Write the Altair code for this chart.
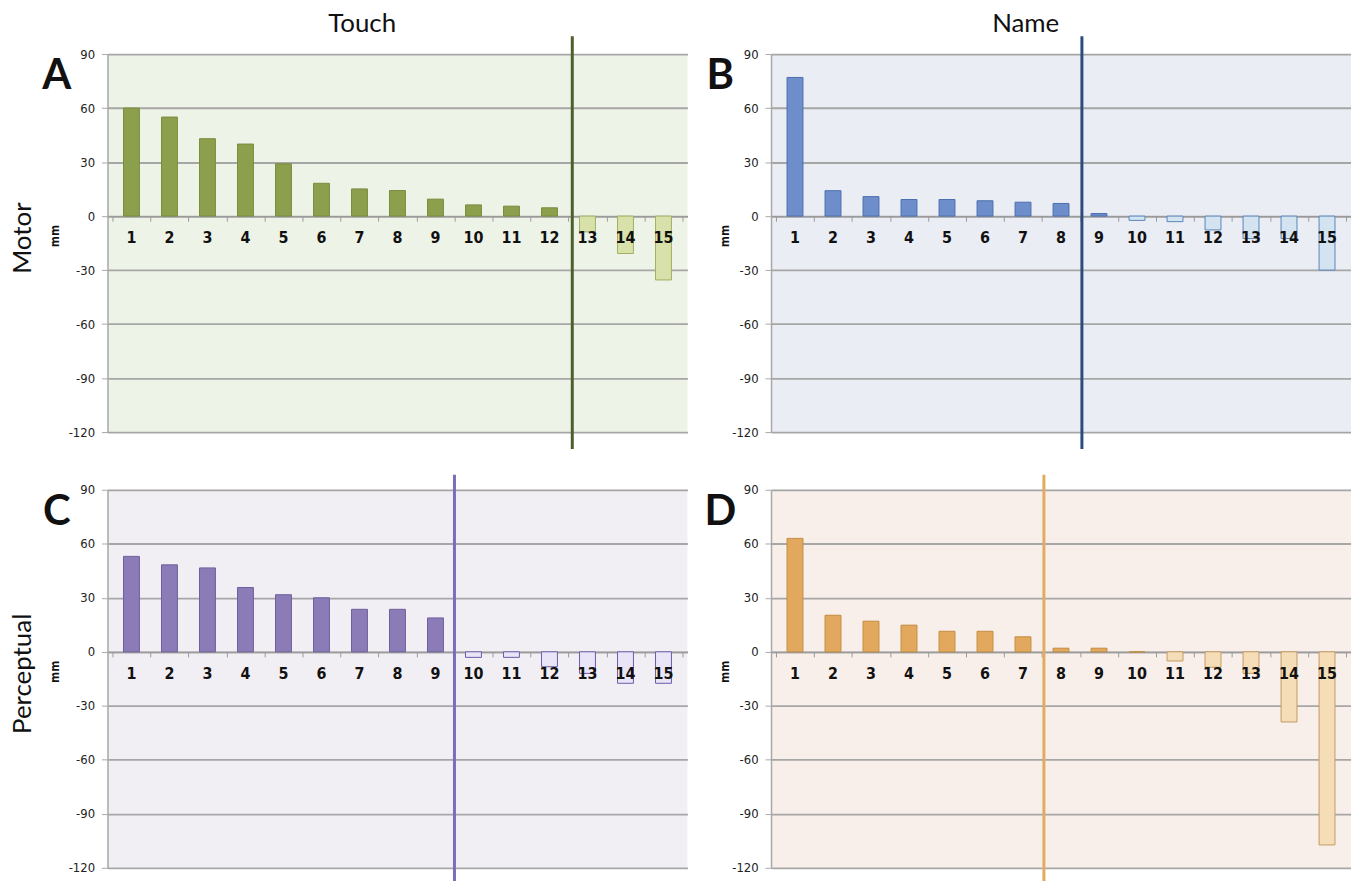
import altair as alt
import pandas as pd

# ---- data ----
cats = list(range(1, 16))
touch_motor = [60, 55, 43, 40, 29, 18.2, 15.1, 14.2, 9.4, 6.2, 5.5, 4.6, -8.8, -20.8, -35.5]
name_motor = [77, 14.1, 10.8, 9.2, 9.2, 8.5, 7.7, 7.0, 1.4, -2.4, -3.1, -7.7, -12.5, -12.5, -30]
touch_perceptual = [53, 48.3, 46.6, 35.7, 31.7, 30, 23.6, 23.6, 18.8, -3.1, -3.1, -8.3, -12, -17.5, -17.5]
name_perceptual = [63, 20.3, 17, 14.8, 11.4, 11.4, 8.3, 2, 2, 0, -5.1, -8.6, -12, -39, -107.3]
split_positions = [12.6, 8.55, 9.5, 7.55]   # divider line, in category units
y_ticks = [-120, -90, -60, -30, 0, 30, 60, 90]
x_bounds = [0.5, 1.5, 2.5, 3.5, 4.5, 5.5, 6.5, 7.5, 8.5, 9.5, 10.5, 11.5, 12.5, 13.5, 14.5, 15.5]
col_titles = ["Touch", "Name"]
row_titles = ["Motor", "Perceptual"]
letters = ["A", "B", "C", "D"]

W, H = 583, 380
NARROW = "Liberation Sans Narrow, DejaVu Sans Condensed, Lato, sans-serif"
HUMAN = "Lato, Open Sans, sans-serif"
GRID = "#a6a6a6"

palettes = [
    # dark fill, dark stroke, light fill, light stroke, background, divider
    ("#8c9f4c", "#7a8c3e", "#d8e1a9", "#9fb062", "#eef3e8", "#4d5f2a"),
    ("#6d8ecb", "#4b6eae", "#d3e3f0", "#5a85bb", "#ebedf5", "#2b4c7d"),
    ("#8b7bb6", "#6e5f9d", "#e9e5f7", "#6b5ca8", "#f1eff4", "#7d6db8"),
    ("#e2a95e", "#c48b3f", "#f5ddb7", "#c59a62", "#f8efeb", "#e2ab62"),
]

xscale = alt.Scale(domain=[0.5, 15.5], nice=False, zero=False)
yscale = alt.Scale(domain=[-120, 90], nice=False, zero=False)
zero_offset = -round(H * 120 / 210)


def xenc(field):
    return alt.X(field, type="quantitative", scale=xscale,
                 axis=alt.Axis(values=x_bounds, labels=False, title=None, grid=False,
                               orient="bottom", offset=zero_offset, tickSize=5,
                               tickColor="#9a9a9a", domainColor="#9a9a9a",
                               domainWidth=1.5, tickWidth=1))


yaxis = alt.Axis(values=y_ticks, title=None, grid=True, gridColor=GRID, gridWidth=1.8,
                 domainColor="#a8a8a8", domainWidth=1.5, tickColor="#a8a8a8", tickSize=6,
                 labelFont=NARROW, labelFontSize=13, labelColor="#222222", labelPadding=7,
                 labelExpr="'' + datum.value")


def panel(vals, idx, col_title=None, row_title=None):
    dark, dstroke, light, lstroke, bg, linecol = palettes[idx]
    df = pd.DataFrame({"cat": cats, "val": vals})
    df["fillc"] = [dark if v >= 0 else light for v in vals]
    df["strokec"] = [dstroke if v >= 0 else lstroke for v in vals]
    df["lab"] = [str(c) for c in cats]
    base = alt.Chart(df)
    bars = base.mark_bar(size=16, strokeWidth=1).encode(
        x=xenc("cat"),
        y=alt.Y("val:Q", scale=yscale, axis=yaxis),
        fill=alt.Fill("fillc:N", scale=None),
        stroke=alt.Stroke("strokec:N", scale=None),
    )
    labels = base.mark_text(font=NARROW, fontSize=16, fontWeight="bold", color="#111111",
                            dy=22).encode(
        x=xenc("cat"),
        y=alt.Y(datum=0, scale=yscale, axis=yaxis),
        text="lab:N",
    )
    top = -18 if idx < 2 else -15
    bot = 397 if idx < 2 else 395
    rule = alt.Chart(pd.DataFrame({"s": [split_positions[idx]]})).mark_rule(
        color=linecol, strokeWidth=3).encode(
        x=xenc("s"), y=alt.value(top), y2=alt.value(bot))
    letter = alt.Chart(pd.DataFrame({"t": [letters[idx]]})).mark_text(
        font=HUMAN, fontSize=42, fontWeight="bold", color="#111111").encode(
        x=alt.value(-51), y=alt.value(22), text="t:N")
    mm = alt.Chart(pd.DataFrame({"t": ["mm"]})).mark_text(
        font=NARROW, fontSize=12, fontWeight="bold", color="#111111", angle=270).encode(
        x=alt.value(-53 if idx % 2 == 0 else -46), y=alt.value(183), text="t:N")
    layers = [bars, labels, rule, letter, mm]
    if col_title:
        layers.append(alt.Chart(pd.DataFrame({"t": [col_title]})).mark_text(
            font=HUMAN, fontSize=26, color="#111111").encode(
            x=alt.value(256), y=alt.value(-30), text="t:N"))
    if row_title:
        layers.append(alt.Chart(pd.DataFrame({"t": [row_title]})).mark_text(
            font=HUMAN, fontSize=26, color="#111111", angle=270).encode(
            x=alt.value(-85), y=alt.value(185), text="t:N"))
    return alt.layer(*layers).properties(
        width=W, height=H, view=alt.ViewBackground(fill=bg, stroke=None))


pA = panel(touch_motor, 0, col_title=col_titles[0], row_title=row_titles[0])
pB = panel(name_motor, 1, col_title=col_titles[1])
pC = panel(touch_perceptual, 2, row_title=row_titles[1])
pD = panel(name_perceptual, 3)

chart = alt.concat(pA, pB, pC, pD, columns=2, spacing={"row": 58, "column": 84},
                   bounds="flush").configure_view(stroke=None).properties(
    padding={"left": 2, "top": 1, "right": 0, "bottom": 0}, background="white")

chart.save("out.html", embed_options={"renderer": "svg", "actions": False})
